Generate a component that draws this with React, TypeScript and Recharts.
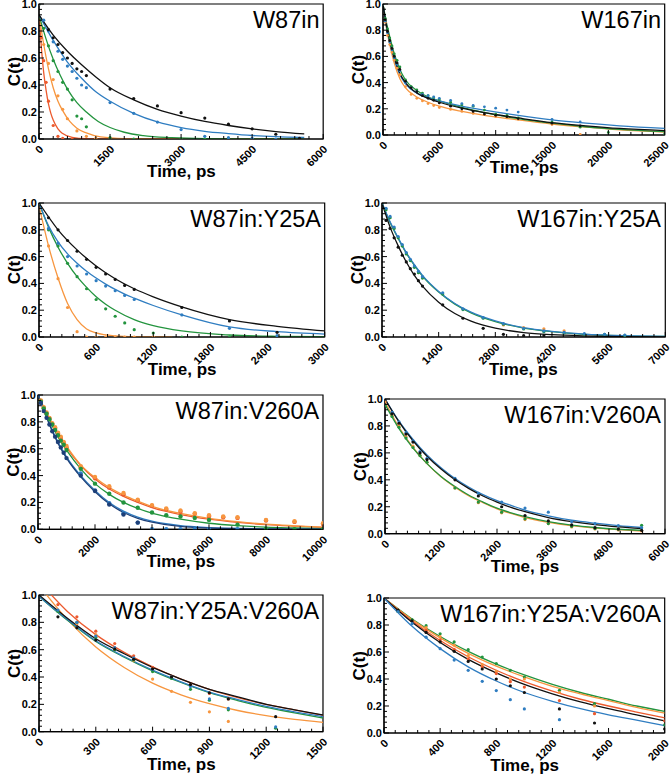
import React from "react";
import { ComposedChart, Line, Scatter, XAxis, YAxis, ReferenceArea } from "recharts";

type Pt = [number, number];

const BLACK = "#111111";
const BLUE = "#2f7dc1";
const GREEN = "#23943e";
const ORANGE = "#f7963f";
const RED = "#ec5a2e";
const NAVY = "#1d3f78";
const FONT = "'Liberation Sans', Arial, sans-serif";

const Y_MAJOR = [0, 0.2, 0.4, 0.6, 0.8, 1.0];

// ---- W87in ----
const w87inTicks = [0, 1500, 3000, 4500, 6000];
const w87inRedFit: Pt[] = [[0, 0.92], [50, 0.68], [100, 0.49], [150, 0.36], [200, 0.26], [250, 0.19], [300, 0.14], [400, 0.075], [500, 0.04], [700, 0.012], [1000, 0.002], [1500, 0], [5600, 0]];
const w87inOrangeFit: Pt[] = [[0, 0.92], [100, 0.7], [200, 0.52], [300, 0.38], [400, 0.28], [500, 0.21], [650, 0.13], [800, 0.08], [1000, 0.045], [1300, 0.015], [1800, 0.003], [2500, 0], [5600, 0]];
const w87inGreenFit: Pt[] = [[0, 0.92], [150, 0.74], [300, 0.59], [450, 0.47], [600, 0.37], [800, 0.27], [1000, 0.2], [1250, 0.13], [1500, 0.085], [1800, 0.05], [2200, 0.025], [2800, 0.01], [3500, 0.003], [4500, 0.001], [5600, 0]];
const w87inBlueFit: Pt[] = [[0, 0.92], [300, 0.73], [600, 0.57], [900, 0.45], [1200, 0.35], [1500, 0.28], [2000, 0.19], [2500, 0.126], [3000, 0.084], [3500, 0.057], [4000, 0.04], [4500, 0.026], [5000, 0.017], [5600, 0.011]];
const w87inBlackFit: Pt[] = [[0, 0.92], [300, 0.77], [600, 0.65], [900, 0.55], [1200, 0.46], [1500, 0.38], [2000, 0.29], [2500, 0.22], [3000, 0.17], [3500, 0.13], [4000, 0.1], [4500, 0.075], [5000, 0.055], [5600, 0.038]];
const w87inRedDots: Pt[] = [[0, 1], [50, 0.75], [100, 0.58], [150, 0.42], [200, 0.28], [300, 0.1], [400, 0.02], [500, 0.005], [700, 0]];
const w87inOrangeDots: Pt[] = [[0, 1], [100, 0.7], [200, 0.56], [300, 0.44], [400, 0.32], [500, 0.22], [600, 0.15], [800, 0.06], [1000, 0.02], [1200, 0.005]];
const w87inGreenDots: Pt[] = [[0, 1], [100, 0.82], [200, 0.69], [300, 0.58], [400, 0.5], [500, 0.42], [600, 0.37], [700, 0.29], [800, 0.17], [900, 0.15], [1000, 0.09], [1500, 0.01], [2000, 0], [3000, 0], [3500, 0]];
const w87inBlueDots: Pt[] = [[0, 1], [100, 0.88], [200, 0.8], [300, 0.72], [400, 0.65], [500, 0.59], [600, 0.54], [700, 0.5], [800, 0.45], [900, 0.4], [1000, 0.38], [1500, 0.27], [2000, 0.19], [2500, 0.125], [3000, 0.07], [3500, 0.02], [4000, 0.01], [4500, 0.005], [5000, 0], [5500, 0]];
const w87inBlackDots: Pt[] = [[0, 1], [200, 0.81], [300, 0.75], [400, 0.7], [500, 0.64], [600, 0.6], [700, 0.56], [800, 0.52], [900, 0.5], [1000, 0.47], [1500, 0.37], [2000, 0.3], [2500, 0.245], [3000, 0.195], [3500, 0.155], [4000, 0.11], [4500, 0.075], [5000, 0.035], [5500, 0.005]];

// ---- W167in ----
const w167inTicks = [0, 5000, 10000, 15000, 20000, 25000];
const w167inOrangeFit: Pt[] = [[0, 1], [300, 0.82], [600, 0.69], [1000, 0.55], [1500, 0.43], [2000, 0.36], [3000, 0.29], [4000, 0.25], [5000, 0.22], [7000, 0.18], [9000, 0.15], [12000, 0.115], [15000, 0.084], [18000, 0.06], [21000, 0.04], [25000, 0.023]];
const w167inGreenFit: Pt[] = [[0, 1], [300, 0.86], [600, 0.75], [1000, 0.62], [1500, 0.5], [2000, 0.42], [3000, 0.34], [4000, 0.29], [5000, 0.26], [7000, 0.21], [9000, 0.17], [12000, 0.125], [15000, 0.09], [18000, 0.063], [21000, 0.043], [25000, 0.025]];
const w167inBlueFit: Pt[] = [[0, 1], [300, 0.83], [600, 0.71], [1000, 0.58], [1500, 0.46], [2000, 0.39], [3000, 0.32], [4000, 0.285], [5000, 0.26], [7000, 0.22], [9000, 0.19], [12000, 0.15], [15000, 0.115], [18000, 0.09], [21000, 0.07], [25000, 0.05]];
const w167inBlackFit: Pt[] = [[0, 1], [300, 0.84], [600, 0.72], [1000, 0.59], [1500, 0.47], [2000, 0.4], [3000, 0.32], [4000, 0.28], [5000, 0.25], [7000, 0.205], [9000, 0.17], [12000, 0.13], [15000, 0.094], [18000, 0.07], [21000, 0.05], [25000, 0.033]];
const w167inOrangeDots: Pt[] = [[0, 1], [200, 0.86], [400, 0.76], [600, 0.69], [800, 0.63], [1000, 0.57], [1250, 0.51], [1500, 0.46], [2000, 0.37], [2500, 0.31], [3000, 0.28], [3500, 0.26], [4000, 0.24], [4500, 0.225], [5000, 0.21], [6000, 0.195], [7000, 0.18], [8000, 0.165], [9000, 0.155], [10000, 0.14], [11000, 0.13], [12000, 0.12], [15000, 0.08], [17500, 0.005]];
const w167inGreenDots: Pt[] = [[0, 1], [200, 0.89], [400, 0.81], [600, 0.74], [800, 0.68], [1000, 0.62], [1250, 0.57], [1500, 0.52], [2000, 0.42], [2500, 0.37], [3000, 0.345], [3500, 0.32], [4000, 0.3], [4500, 0.285], [5000, 0.27], [6000, 0.25], [7000, 0.23], [8000, 0.22], [9000, 0.19], [10000, 0.16], [11000, 0.15], [12000, 0.13], [15000, 0.1], [17500, 0.06], [20000, 0.02], [25000, 0.01]];
const w167inBlueDots: Pt[] = [[0, 1], [200, 0.87], [400, 0.78], [600, 0.71], [800, 0.65], [1000, 0.59], [1250, 0.54], [1500, 0.49], [2000, 0.4], [2500, 0.36], [3000, 0.33], [3500, 0.31], [4000, 0.3], [4500, 0.29], [5000, 0.28], [6000, 0.265], [7000, 0.24], [8000, 0.225], [9000, 0.215], [10000, 0.205], [11000, 0.19], [12000, 0.175], [15000, 0.12], [17500, 0.1]];
const w167inBlackDots: Pt[] = [[0, 1], [200, 0.88], [400, 0.79], [600, 0.72], [800, 0.66], [1000, 0.6], [1250, 0.55], [1500, 0.5], [2000, 0.41], [2500, 0.36], [3000, 0.33], [3500, 0.3], [4000, 0.28], [4500, 0.265], [5000, 0.245], [6000, 0.22], [7000, 0.2], [8000, 0.18], [9000, 0.16], [10000, 0.15], [11000, 0.14], [12000, 0.125], [15000, 0.09], [17500, 0.07]];

// ---- W87in:Y25A ----
const y25Ticks = [0, 600, 1200, 1800, 2400, 3000];
const y25OrangeFit: Pt[] = [[0, 0.98], [100, 0.68], [200, 0.44], [300, 0.25], [400, 0.13], [500, 0.06], [600, 0.03], [800, 0.008], [1000, 0.002], [1400, 0]];
const y25GreenFit: Pt[] = [[0, 1], [100, 0.82], [200, 0.67], [300, 0.55], [400, 0.45], [500, 0.37], [600, 0.3], [700, 0.245], [800, 0.2], [1000, 0.13], [1200, 0.085], [1500, 0.045], [2000, 0.015], [2500, 0.005], [3000, 0.002]];
const y25BlueFit: Pt[] = [[0, 1], [100, 0.83], [200, 0.71], [300, 0.62], [400, 0.55], [500, 0.49], [600, 0.44], [700, 0.395], [800, 0.355], [900, 0.32], [1000, 0.29], [1200, 0.235], [1500, 0.165], [2000, 0.075], [2500, 0.04], [3000, 0.022]];
const y25BlackFit: Pt[] = [[0, 1], [200, 0.8], [400, 0.65], [600, 0.53], [800, 0.435], [1000, 0.36], [1200, 0.3], [1500, 0.225], [2000, 0.13], [2500, 0.08], [3000, 0.045]];
const y25OrangeDots: Pt[] = [[0, 1], [100, 0.68], [200, 0.435], [300, 0.22], [400, 0.04], [500, 0], [600, 0], [700, 0], [800, 0], [900, 0], [1000, 0], [1200, 0]];
const y25GreenDots: Pt[] = [[0, 1], [100, 0.8], [200, 0.68], [300, 0.55], [400, 0.45], [500, 0.36], [600, 0.28], [700, 0.21], [800, 0.155], [900, 0.105], [1000, 0.055], [1200, 0.03], [1500, 0], [2000, 0], [2500, 0]];
const y25BlueDots: Pt[] = [[0, 1], [100, 0.81], [200, 0.7], [300, 0.6], [400, 0.53], [500, 0.47], [600, 0.42], [700, 0.38], [800, 0.345], [900, 0.31], [1000, 0.28], [1500, 0.165], [2000, 0.065], [2500, 0.01]];
const y25BlackDots: Pt[] = [[0, 1], [100, 0.89], [200, 0.8], [300, 0.72], [400, 0.64], [500, 0.58], [600, 0.52], [700, 0.47], [800, 0.43], [900, 0.385], [1000, 0.355], [1500, 0.22], [2000, 0.12], [2500, 0.035]];

// ---- W167in:Y25A ----
const w167y25Ticks = [0, 1400, 2800, 4200, 5600, 7000];
const w167y25GreenFit: Pt[] = [[0, 1], [200, 0.855], [400, 0.735], [600, 0.625], [800, 0.535], [1000, 0.455], [1400, 0.335], [1800, 0.245], [2200, 0.18], [2800, 0.115], [3500, 0.067], [4200, 0.04], [5000, 0.02], [6000, 0.009], [7000, 0.004]];
const w167y25BlueFit: Pt[] = [[0, 1], [200, 0.86], [400, 0.74], [600, 0.63], [800, 0.54], [1000, 0.46], [1400, 0.34], [1800, 0.25], [2200, 0.185], [2800, 0.12], [3500, 0.07], [4200, 0.042], [5000, 0.022], [6000, 0.01], [7000, 0.005]];
const w167y25BlackFit: Pt[] = [[0, 1], [200, 0.82], [400, 0.68], [600, 0.56], [800, 0.46], [1000, 0.38], [1400, 0.26], [1800, 0.175], [2200, 0.118], [2800, 0.066], [3500, 0.033], [4200, 0.017], [5000, 0.008], [6000, 0.003], [7000, 0.001]];
const w167y25OrangeDots: Pt[] = [[3000, 0.09], [3500, 0.07], [4000, 0.06], [4500, 0.045]];
const w167y25GreenDots: Pt[] = [[0, 1], [100, 0.95], [200, 0.89], [300, 0.81], [400, 0.74], [500, 0.68], [600, 0.62], [700, 0.57], [800, 0.52], [900, 0.48], [1000, 0.44], [1500, 0.32], [2000, 0.205], [2500, 0.14], [3000, 0.095], [3500, 0.06], [4000, 0.04], [4500, 0.03], [5000, 0.02], [5500, 0.02], [6000, 0.012]];
const w167y25BlueDots: Pt[] = [[0, 1], [100, 0.96], [200, 0.9], [300, 0.82], [400, 0.75], [500, 0.69], [600, 0.63], [700, 0.58], [800, 0.53], [900, 0.49], [1000, 0.45], [1500, 0.33], [2000, 0.21], [2500, 0.145], [3000, 0.1], [3500, 0.065], [4000, 0.045], [4500, 0.035], [5000, 0.025], [5500, 0.02], [6000, 0.015]];
const w167y25BlackDots: Pt[] = [[0, 1], [100, 0.87], [200, 0.81], [300, 0.74], [400, 0.67], [500, 0.61], [600, 0.56], [700, 0.51], [800, 0.47], [900, 0.42], [1000, 0.38], [1500, 0.24], [2000, 0.14], [2500, 0.065], [3000, 0.02], [3500, 0.01], [4000, 0.01]];

// ---- W87in:V260A ----
const v260Ticks = [0, 2000, 4000, 6000, 8000, 10000];
const v260RedFit: Pt[] = [[0, 1], [250, 0.885], [500, 0.785], [750, 0.695], [1000, 0.61], [1500, 0.475], [2000, 0.375], [2500, 0.3], [3000, 0.245], [3500, 0.2], [4000, 0.162], [4500, 0.133], [5000, 0.11], [6000, 0.076], [7000, 0.052], [8000, 0.035], [9000, 0.024], [10000, 0.015]];
const v260OrangeFit: Pt[] = [[0, 1], [250, 0.89], [500, 0.79], [750, 0.7], [1000, 0.62], [1500, 0.48], [2000, 0.385], [2500, 0.31], [3000, 0.255], [3500, 0.21], [4000, 0.17], [4500, 0.14], [5000, 0.118], [6000, 0.082], [7000, 0.057], [8000, 0.038], [9000, 0.026], [10000, 0.016]];
const v260GreenFit: Pt[] = [[0, 1], [250, 0.88], [500, 0.77], [750, 0.67], [1000, 0.59], [1500, 0.45], [2000, 0.34], [2500, 0.26], [3000, 0.2], [3500, 0.155], [4000, 0.12], [4500, 0.095], [5000, 0.075], [6000, 0.045], [7000, 0.027], [8000, 0.016], [9000, 0.01], [10000, 0.005]];
const v260BlueFit: Pt[] = [[0, 1], [250, 0.865], [500, 0.74], [750, 0.63], [1000, 0.54], [1500, 0.4], [2000, 0.29], [2500, 0.2], [3000, 0.135], [3500, 0.09], [4000, 0.06], [5000, 0.027], [6000, 0.013], [7000, 0.006], [8000, 0.003], [10000, 0.001]];
const v260NavyFit: Pt[] = [[0, 1], [250, 0.86], [500, 0.73], [750, 0.62], [1000, 0.53], [1500, 0.39], [2000, 0.28], [2500, 0.19], [3000, 0.125], [3500, 0.082], [4000, 0.053], [5000, 0.022], [6000, 0.01], [7000, 0.005], [8000, 0.002], [10000, 0]];
const v260RedDots: Pt[] = [[0, 1], [100, 0.955], [200, 0.905], [300, 0.865], [400, 0.825], [500, 0.785], [600, 0.75], [700, 0.715], [800, 0.68], [900, 0.645], [1000, 0.61], [1500, 0.46], [2000, 0.38], [2500, 0.31], [3000, 0.26], [3500, 0.215], [4000, 0.175], [4500, 0.15], [5000, 0.13], [5500, 0.115], [6000, 0.095], [6500, 0.09], [7000, 0.085], [8000, 0.065], [9000, 0.055], [10000, 0.04]];
const v260OrangeDots: Pt[] = [[0, 1], [100, 0.96], [200, 0.91], [300, 0.87], [400, 0.83], [500, 0.79], [600, 0.76], [700, 0.72], [800, 0.69], [900, 0.65], [1000, 0.62], [1500, 0.47], [2000, 0.39], [2500, 0.32], [3000, 0.27], [3500, 0.22], [4000, 0.18], [4500, 0.155], [5000, 0.14], [5500, 0.12], [6000, 0.105], [6500, 0.095], [7000, 0.09], [8000, 0.07], [9000, 0.06], [10000, 0.045]];
const v260GreenDots: Pt[] = [[0, 1], [100, 0.95], [200, 0.9], [300, 0.86], [400, 0.82], [500, 0.78], [600, 0.74], [700, 0.7], [800, 0.66], [900, 0.63], [1000, 0.59], [1500, 0.45], [2000, 0.34], [2500, 0.265], [3000, 0.2], [3500, 0.16], [4000, 0.125], [4500, 0.105], [5000, 0.095], [5500, 0.085], [6000, 0.07], [7000, 0.035], [8000, 0.005], [9000, 0], [10000, 0]];
const v260BlueDots: Pt[] = [[0, 1], [1500, 0.415], [2000, 0.29], [2500, 0.195], [3000, 0.12], [3500, 0.05], [4000, 0], [4500, 0], [5000, 0], [5500, 0], [6000, 0], [7000, 0]];
const v260NavyDots: Pt[] = [[0, 1], [100, 0.94], [200, 0.88], [300, 0.83], [400, 0.78], [500, 0.73], [600, 0.69], [700, 0.65], [800, 0.61], [900, 0.57], [1000, 0.53], [1500, 0.4], [2000, 0.285], [2500, 0.185], [3000, 0.11], [3500, 0.05]];

// ---- W167in:V260A ----
const w167v260Ticks = [0, 1200, 2400, 3600, 4800, 6000];
const w167v260OrangeFit: Pt[] = [[0, 0.98], [300, 0.79], [600, 0.64], [900, 0.52], [1200, 0.422], [1500, 0.345], [1800, 0.28], [2100, 0.23], [2400, 0.185], [2700, 0.15], [3000, 0.12], [3500, 0.085], [4000, 0.06], [4500, 0.042], [5000, 0.03], [5500, 0.02]];
const w167v260GreenFit: Pt[] = [[0, 0.96], [300, 0.78], [600, 0.635], [900, 0.52], [1200, 0.425], [1500, 0.35], [1800, 0.285], [2100, 0.235], [2400, 0.19], [2700, 0.155], [3000, 0.127], [3500, 0.09], [4000, 0.064], [4500, 0.046], [5000, 0.033], [5500, 0.024]];
const w167v260BlueFit: Pt[] = [[0, 1], [300, 0.835], [600, 0.7], [900, 0.585], [1200, 0.49], [1500, 0.41], [1800, 0.345], [2100, 0.29], [2400, 0.245], [2700, 0.21], [3000, 0.175], [3500, 0.133], [4000, 0.1], [4500, 0.078], [5000, 0.06], [5500, 0.046]];
const w167v260BlackFit: Pt[] = [[0, 1], [300, 0.83], [600, 0.69], [900, 0.575], [1200, 0.48], [1500, 0.4], [1800, 0.335], [2100, 0.28], [2400, 0.235], [2700, 0.195], [3000, 0.163], [3500, 0.12], [4000, 0.09], [4500, 0.067], [5000, 0.05], [5500, 0.037]];
const w167v260OrangeDots: Pt[] = [[0, 0.98], [150, 0.88], [300, 0.8], [450, 0.72], [600, 0.65], [750, 0.58], [900, 0.53], [1500, 0.34], [2000, 0.23], [2500, 0.155], [3000, 0.105], [3500, 0.075], [4000, 0.05], [4500, 0.035], [5000, 0.028], [5500, 0.02]];
const w167v260GreenDots: Pt[] = [[0, 0.95], [150, 0.87], [300, 0.79], [450, 0.71], [600, 0.64], [750, 0.58], [900, 0.53], [1500, 0.34], [2000, 0.235], [2500, 0.16], [3000, 0.11], [3500, 0.075], [4000, 0.055], [4500, 0.038], [5000, 0.033], [5500, 0.062]];
const w167v260BlueDots: Pt[] = [[0, 1], [150, 0.9], [300, 0.83], [450, 0.75], [600, 0.69], [750, 0.61], [900, 0.56], [1500, 0.41], [2000, 0.3], [2500, 0.235], [3000, 0.19], [3500, 0.16], [4000, 0.09], [4500, 0.075], [5000, 0.06], [5500, 0.045]];
const w167v260BlackDots: Pt[] = [[0, 1], [150, 0.89], [300, 0.82], [450, 0.74], [600, 0.68], [750, 0.6], [900, 0.55], [1500, 0.4], [2000, 0.28], [2500, 0.2], [3000, 0.135], [3500, 0.095], [4000, 0.065], [4500, 0.045], [5000, 0.035], [5500, 0.025]];

// ---- W87in:Y25A:V260A ----
const w87dblTicks = [0, 300, 600, 900, 1200, 1500];
const w87dblOrangeFit: Pt[] = [[0, 1.07], [150, 0.82], [300, 0.62], [450, 0.47], [600, 0.355], [750, 0.27], [900, 0.205], [1050, 0.155], [1200, 0.118], [1350, 0.09], [1500, 0.068]];
const w87dblRedFit: Pt[] = [[0, 1.1], [150, 0.88], [300, 0.71], [450, 0.58], [600, 0.475], [750, 0.385], [900, 0.31], [1050, 0.25], [1200, 0.2], [1350, 0.16], [1500, 0.12]];
const w87dblGreenFit: Pt[] = [[0, 0.99], [150, 0.815], [300, 0.66], [450, 0.545], [600, 0.445], [750, 0.36], [900, 0.285], [1050, 0.228], [1200, 0.178], [1350, 0.138], [1500, 0.1]];
const w87dblBlueFit: Pt[] = [[0, 0.99], [150, 0.82], [300, 0.665], [450, 0.55], [600, 0.45], [750, 0.365], [900, 0.29], [1050, 0.235], [1200, 0.185], [1350, 0.145], [1500, 0.11]];
const w87dblBlackFit: Pt[] = [[0, 1], [150, 0.83], [300, 0.68], [450, 0.57], [600, 0.47], [750, 0.385], [900, 0.31], [1050, 0.255], [1200, 0.2], [1350, 0.16], [1500, 0.122]];
const w87dblOrangeDots: Pt[] = [[200, 0.79], [300, 0.71], [400, 0.6], [500, 0.52], [600, 0.385], [700, 0.295], [800, 0.215], [900, 0.145], [1000, 0.075]];
const w87dblRedDots: Pt[] = [[100, 0.93], [200, 0.84], [300, 0.735], [400, 0.645], [500, 0.555], [600, 0.47], [700, 0.4], [800, 0.345], [900, 0.28], [1000, 0.24]];
const w87dblGreenDots: Pt[] = [[100, 0.88], [200, 0.8], [300, 0.69], [400, 0.6], [500, 0.525], [600, 0.44], [700, 0.39], [800, 0.31], [900, 0.23], [1000, 0.16], [1250, 0.025]];
const w87dblBlueDots: Pt[] = [[100, 0.89], [200, 0.8], [300, 0.7], [400, 0.615], [500, 0.54], [600, 0.455], [700, 0.4], [800, 0.33], [900, 0.24], [1000, 0.17], [1250, 0.035]];
const w87dblBlackDots: Pt[] = [[100, 0.84], [200, 0.76], [300, 0.67], [400, 0.605], [500, 0.53], [600, 0.46], [700, 0.4], [800, 0.345], [900, 0.285], [1000, 0.24], [1250, 0.11]];

// ---- W167in:Y25A:V260A ----
const w167dblTicks = [0, 400, 800, 1200, 1600, 2000];
const w167dblGreenFit: Pt[] = [[0, 1], [200, 0.845], [400, 0.715], [600, 0.605], [800, 0.51], [1000, 0.43], [1200, 0.36], [1400, 0.3], [1600, 0.25], [1800, 0.2], [2000, 0.16]];
const w167dblOrangeFit: Pt[] = [[0, 1], [200, 0.84], [400, 0.705], [600, 0.59], [800, 0.495], [1000, 0.415], [1200, 0.345], [1400, 0.29], [1600, 0.24], [1800, 0.19], [2000, 0.148]];
const w167dblRedFit: Pt[] = [[0, 1], [200, 0.83], [400, 0.685], [600, 0.565], [800, 0.465], [1000, 0.38], [1200, 0.31], [1400, 0.25], [1600, 0.2], [1800, 0.155], [2000, 0.112]];
const w167dblBlackFit: Pt[] = [[0, 1], [200, 0.82], [400, 0.67], [600, 0.545], [800, 0.445], [1000, 0.36], [1200, 0.29], [1400, 0.23], [1600, 0.18], [1800, 0.135], [2000, 0.09]];
const w167dblBlueFit: Pt[] = [[0, 1], [200, 0.79], [400, 0.625], [600, 0.49], [800, 0.385], [1000, 0.3], [1200, 0.235], [1400, 0.18], [1600, 0.135], [1800, 0.095], [2000, 0.055]];
const w167dblGreenDots: Pt[] = [[100, 0.9], [200, 0.84], [300, 0.795], [400, 0.735], [500, 0.675], [600, 0.617], [700, 0.563], [800, 0.514], [900, 0.464], [1000, 0.415], [1250, 0.316], [1500, 0.217], [2000, 0.06]];
const w167dblOrangeDots: Pt[] = [[300, 0.78], [400, 0.715], [500, 0.65], [600, 0.573], [700, 0.506], [800, 0.457], [900, 0.4], [1000, 0.4], [1250, 0.3], [1500, 0.2]];
const w167dblRedDots: Pt[] = [[300, 0.76], [400, 0.69], [500, 0.62], [600, 0.55], [700, 0.49], [800, 0.44], [900, 0.38], [1000, 0.34], [1250, 0.24], [1500, 0.143], [2000, 0.09]];
const w167dblBlackDots: Pt[] = [[100, 0.91], [200, 0.83], [300, 0.745], [400, 0.675], [500, 0.605], [600, 0.53], [700, 0.474], [800, 0.4], [900, 0.35], [1000, 0.3], [1250, 0.178], [1500, 0.074], [2000, 0.03]];
const w167dblBlueDots: Pt[] = [[100, 0.9], [200, 0.81], [300, 0.71], [400, 0.625], [500, 0.54], [600, 0.464], [700, 0.383], [800, 0.314], [900, 0.247], [1000, 0.178], [1250, 0.099]];

type Series = { color: string; pts: Pt[] };
type PanelDef = {
  title: string;
  box: { left: number; top: number; right: number; bottom: number };
  xMax: number;
  ticks: number[];
  fits: Series[];
  dots: Series[];
  r: number;
};

const PANELS: PanelDef[] = [
  {
    title: "W87in", box: { left: 39.3, top: 4, right: 323.5, bottom: 139 }, xMax: 6000, ticks: w87inTicks, r: 1.6,
    fits: [{ color: RED, pts: w87inRedFit }, { color: ORANGE, pts: w87inOrangeFit }, { color: GREEN, pts: w87inGreenFit }, { color: BLUE, pts: w87inBlueFit }, { color: BLACK, pts: w87inBlackFit }],
    dots: [{ color: RED, pts: w87inRedDots }, { color: ORANGE, pts: w87inOrangeDots }, { color: GREEN, pts: w87inGreenDots }, { color: BLUE, pts: w87inBlueDots }, { color: BLACK, pts: w87inBlackDots }],
  },
  {
    title: "W167in", box: { left: 383.3, top: 4, right: 665, bottom: 135 }, xMax: 25000, ticks: w167inTicks, r: 1.4,
    fits: [{ color: ORANGE, pts: w167inOrangeFit }, { color: GREEN, pts: w167inGreenFit }, { color: BLUE, pts: w167inBlueFit }, { color: BLACK, pts: w167inBlackFit }],
    dots: [{ color: ORANGE, pts: w167inOrangeDots }, { color: GREEN, pts: w167inGreenDots }, { color: BLUE, pts: w167inBlueDots }, { color: BLACK, pts: w167inBlackDots }],
  },
  {
    title: "W87in:Y25A", box: { left: 39.3, top: 202.7, right: 325, bottom: 336.7 }, xMax: 3000, ticks: y25Ticks, r: 1.6,
    fits: [{ color: ORANGE, pts: y25OrangeFit }, { color: GREEN, pts: y25GreenFit }, { color: BLUE, pts: y25BlueFit }, { color: BLACK, pts: y25BlackFit }],
    dots: [{ color: ORANGE, pts: y25OrangeDots }, { color: GREEN, pts: y25GreenDots }, { color: BLUE, pts: y25BlueDots }, { color: BLACK, pts: y25BlackDots }],
  },
  {
    title: "W167in:Y25A", box: { left: 381.7, top: 202.7, right: 665, bottom: 336.7 }, xMax: 7000, ticks: w167y25Ticks, r: 1.6,
    fits: [{ color: GREEN, pts: w167y25GreenFit }, { color: BLUE, pts: w167y25BlueFit }, { color: BLACK, pts: w167y25BlackFit }],
    dots: [{ color: ORANGE, pts: w167y25OrangeDots }, { color: GREEN, pts: w167y25GreenDots }, { color: BLUE, pts: w167y25BlueDots }, { color: BLACK, pts: w167y25BlackDots }],
  },
  {
    title: "W87in:V260A", box: { left: 38.3, top: 395, right: 323.3, bottom: 529.3 }, xMax: 10000, ticks: v260Ticks, r: 2.2,
    fits: [{ color: RED, pts: v260RedFit }, { color: ORANGE, pts: v260OrangeFit }, { color: GREEN, pts: v260GreenFit }, { color: BLUE, pts: v260BlueFit }, { color: NAVY, pts: v260NavyFit }],
    dots: [{ color: RED, pts: v260RedDots }, { color: ORANGE, pts: v260OrangeDots }, { color: GREEN, pts: v260GreenDots }, { color: BLUE, pts: v260BlueDots }, { color: NAVY, pts: v260NavyDots }],
  },
  {
    title: "W167in:V260A", box: { left: 385, top: 399.3, right: 665, bottom: 534 }, xMax: 6000, ticks: w167v260Ticks, r: 1.6,
    fits: [{ color: ORANGE, pts: w167v260OrangeFit }, { color: GREEN, pts: w167v260GreenFit }, { color: BLUE, pts: w167v260BlueFit }, { color: BLACK, pts: w167v260BlackFit }],
    dots: [{ color: ORANGE, pts: w167v260OrangeDots }, { color: GREEN, pts: w167v260GreenDots }, { color: BLUE, pts: w167v260BlueDots }, { color: BLACK, pts: w167v260BlackDots }],
  },
  {
    title: "W87in:Y25A:V260A", box: { left: 39.3, top: 595, right: 323.3, bottom: 731.7 }, xMax: 1500, ticks: w87dblTicks, r: 1.6,
    fits: [{ color: ORANGE, pts: w87dblOrangeFit }, { color: RED, pts: w87dblRedFit }, { color: GREEN, pts: w87dblGreenFit }, { color: BLUE, pts: w87dblBlueFit }, { color: BLACK, pts: w87dblBlackFit }],
    dots: [{ color: ORANGE, pts: w87dblOrangeDots }, { color: RED, pts: w87dblRedDots }, { color: GREEN, pts: w87dblGreenDots }, { color: BLUE, pts: w87dblBlueDots }, { color: BLACK, pts: w87dblBlackDots }],
  },
  {
    title: "W167in:Y25A:V260A", box: { left: 384.3, top: 598.3, right: 665, bottom: 733.3 }, xMax: 2000, ticks: w167dblTicks, r: 1.6,
    fits: [{ color: GREEN, pts: w167dblGreenFit }, { color: ORANGE, pts: w167dblOrangeFit }, { color: RED, pts: w167dblRedFit }, { color: BLACK, pts: w167dblBlackFit }, { color: BLUE, pts: w167dblBlueFit }],
    dots: [{ color: GREEN, pts: w167dblGreenDots }, { color: ORANGE, pts: w167dblOrangeDots }, { color: RED, pts: w167dblRedDots }, { color: BLACK, pts: w167dblBlackDots }, { color: BLUE, pts: w167dblBlueDots }],
  },
];

// majors plus 4 minor ticks in each interval
function withMinors(majors: number[]): number[] {
  const out: number[] = [];
  for (let i = 0; i < majors.length - 1; i++) {
    const a = majors[i];
    const b = majors[i + 1];
    for (let k = 0; k < 5; k++) out.push(a + ((b - a) * k) / 5);
  }
  out.push(majors[majors.length - 1]);
  return out;
}

const isMajor = (majors: number[], v: number) => majors.some((m) => Math.abs(m - v) < 1e-9);
const toObj = (pts: Pt[]) => pts.map(([t, c]) => ({ t, c }));

function Panel({ p }: { p: PanelDef }) {
  const { left, top, right, bottom } = p.box;
  const W = right - left + 48;
  const H = bottom - top + 64;

  const xTick = (props: any) => {
    const { x, y, payload } = props;
    const v = payload.value;
    const major = isMajor(p.ticks, v);
    return (
      <g>
        <line x1={x} x2={x} y1={y} y2={y - (major ? 5 : 3)} stroke="#000" strokeWidth={1} />
        {major && (
          <text x={x + 5} y={y + 11} transform={`rotate(-45 ${x + 5} ${y + 11})`} textAnchor="end"
            fontSize={11} fontWeight="bold" fontFamily={FONT} fill="#000">{v}</text>
        )}
      </g>
    );
  };

  const yTick = (props: any) => {
    const { x, y, payload } = props;
    const v = payload.value;
    const major = isMajor(Y_MAJOR, v);
    return (
      <g>
        <line x1={x} x2={x + (major ? 5 : 3)} y1={y} y2={y} stroke="#000" strokeWidth={1} />
        {major && (
          <text x={x - 2} y={y} dy="0.36em" textAnchor="end" fontSize={11} fontWeight="bold" fontFamily={FONT} fill="#000">
            {v.toFixed(1)}
          </text>
        )}
      </g>
    );
  };

  return (
    <div style={{ position: "absolute", left: left - 40, top: top - 8 }}>
      <ComposedChart width={W} height={H} margin={{ top: 8, right: 8, bottom: 0, left: 0 }}>
        <XAxis type="number" dataKey="t" domain={[0, p.xMax]} ticks={withMinors(p.ticks)} interval={0}
          tickSize={0} tickMargin={0} tickLine={false} tick={xTick} height={56} allowDataOverflow
          axisLine={{ stroke: "#000", strokeWidth: 1.2 }} />
        <YAxis type="number" dataKey="c" domain={[0, 1]} ticks={withMinors(Y_MAJOR)} interval={0}
          tickSize={0} tickMargin={0} tickLine={false} tick={yTick} width={40} allowDataOverflow
          axisLine={{ stroke: "#000", strokeWidth: 1.2 }} />
        <ReferenceArea x1={0} x2={p.xMax} y1={0} y2={1} fill="none" stroke="#000" strokeWidth={1.2} />
        {p.fits.map((s, i) => (
          <Line key={`f${i}`} data={toObj(s.pts)} dataKey="c" type="monotone" stroke={s.color}
            strokeWidth={1.3} dot={false} activeDot={false} isAnimationActive={false} />
        ))}
        {p.dots.map((s, i) => (
          <Scatter key={`d${i}`} data={toObj(s.pts)} dataKey="c" fill={s.color} isAnimationActive={false}
            shape={(q: any) => <circle cx={q.cx} cy={q.cy} r={p.r} fill={s.color} />} />
        ))}
      </ComposedChart>
    </div>
  );
}

export default function App() {
  return (
    <div style={{ position: "absolute", left: 0, top: 0, width: 671, height: 776, background: "#fff" }}>
      {PANELS.map((p) => <Panel key={p.title} p={p} />)}
      <svg width={671} height={776} style={{ position: "absolute", left: 0, top: 0, pointerEvents: "none" }}>
        {PANELS.map((p) => {
          const { left, top, right, bottom } = p.box;
          const cy = (top + bottom) / 2;
          return (
            <g key={p.title} fontFamily={FONT} fill="#000">
              <text x={right - 4} y={top + 24} textAnchor="end" fontSize={23.5}>{p.title}</text>
              <text x={left - 19} y={cy} transform={`rotate(-90 ${left - 19} ${cy})`} textAnchor="middle"
                fontSize={17} fontWeight="bold">C(t)</text>
              <text x={(left + right) / 2} y={bottom + 38} textAnchor="middle" fontSize={17} fontWeight="bold">Time, ps</text>
            </g>
          );
        })}
      </svg>
    </div>
  );
}
